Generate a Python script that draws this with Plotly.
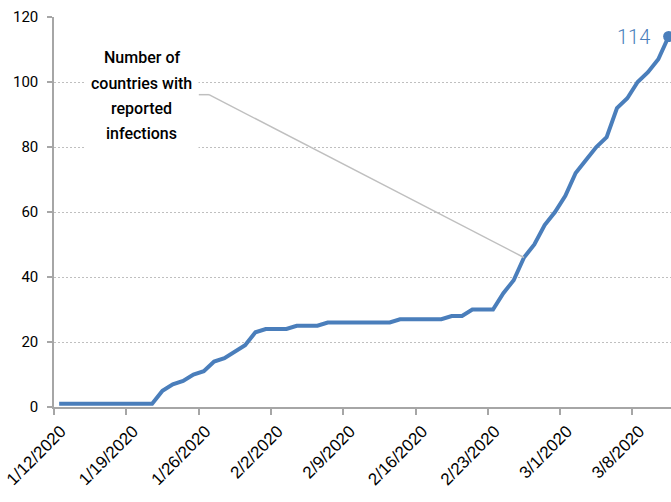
import pandas as pd
import plotly.graph_objects as go

# ---- data ----
start_date = "2020-01-12"
countries = [1, 1, 1, 1, 1, 1, 1, 1, 1, 1,
             5, 7, 8, 10, 11, 14, 15, 17, 19, 23,
             24, 24, 24, 25, 25, 25, 26, 26, 26, 26,
             26, 26, 26, 27, 27, 27, 27, 27, 28, 28,
             30, 30, 30, 35, 39, 46, 50, 56, 60, 65,
             72, 76, 80, 83, 92, 95, 100, 103, 107, 114]
tick_dates = ["2020-01-12", "2020-01-19", "2020-01-26", "2020-02-02", "2020-02-09",
              "2020-02-16", "2020-02-23", "2020-03-01", "2020-03-08"]
tick_labels = ["1/12/2020", "1/19/2020", "1/26/2020", "2/2/2020", "2/9/2020",
               "2/16/2020", "2/23/2020", "3/1/2020", "3/8/2020"]
y_ticks = [0, 20, 40, 60, 80, 100, 120]
label_lines = ["Number of", "countries with", "reported", "infections"]

# ---- layout constants (positions of the callout, not data) ----
label_center_x = "2020-01-20 00:00"
label_center_y = 95.9
line_shifts = [38, 12, -13, -38]
leader_start = "2020-01-25 12:00"
leader_elbow = "2020-01-26 12:00"
leader_y = 96.1
pointer_index = 45

dates = pd.date_range(start_date, periods=len(countries), freq="D")
half_day = pd.Timedelta(hours=12)
tickvals = pd.to_datetime(tick_dates) - half_day

BLUE = "#4A7EBB"
AXIS = "#A6A6A6"
GRID = "#BFBFBF"

fig = go.Figure()
fig.add_trace(go.Scatter(
    x=dates, y=countries, mode="lines",
    line=dict(color=BLUE, width=4), hoverinfo="skip", showlegend=False))
fig.add_trace(go.Scatter(
    x=[dates[-1]], y=[countries[-1]], mode="markers",
    marker=dict(color=BLUE, size=11), cliponaxis=False,
    hoverinfo="skip", showlegend=False))

# leader line from callout to the curve
fig.add_shape(type="line", xref="x", yref="y",
              x0=leader_start, y0=leader_y, x1=leader_elbow, y1=leader_y,
              line=dict(color=GRID, width=1.5))
fig.add_shape(type="line", xref="x", yref="y",
              x0=leader_elbow, y0=leader_y,
              x1=dates[pointer_index], y1=countries[pointer_index],
              line=dict(color=GRID, width=1.5))

# white box behind the callout text (hides gridlines)
fig.add_annotation(x=label_center_x, y=label_center_y, xref="x", yref="y",
                   text=" ", showarrow=False, width=113, height=114,
                   bgcolor="white", borderpad=0)
for txt, sh in zip(label_lines, line_shifts):
    fig.add_annotation(x=label_center_x, y=label_center_y, xref="x", yref="y",
                       text=txt, showarrow=False, yshift=sh,
                       font=dict(family="Roboto, sans-serif", size=16,
                                 color="#000000", weight=500))

fig.add_annotation(x=dates[-1], y=countries[-1], xref="x", yref="y",
                   text=str(countries[-1]), showarrow=False,
                   xanchor="right", yanchor="middle", xshift=-17,
                   font=dict(family="Roboto, sans-serif", size=20,
                             color=BLUE, weight=300))

fig.update_layout(
    width=671, height=502,
    margin=dict(l=54, r=0, t=17, b=95, autoexpand=False),
    plot_bgcolor="white", paper_bgcolor="white",
    showlegend=False,
    xaxis=dict(
        type="date", automargin=False,
        range=[pd.Timestamp(start_date) - half_day,
               pd.Timestamp("2020-03-11 05:30")],
        tickmode="array", tickvals=tickvals, ticktext=tick_labels,
        tickangle=-45, ticks="outside", ticklen=6, tickcolor=AXIS, tickwidth=1.5,
        ticklabelshift=7, ticklabeloverflow="allow",
        showline=True, linecolor=AXIS, linewidth=1.5,
        showgrid=False, zeroline=False,
        tickfont=dict(family="Liberation Sans, Arial, sans-serif", size=17, color="#000000"),
    ),
    yaxis=dict(
        range=[0, 120], tickmode="array", tickvals=y_ticks, automargin=False,
        ticks="outside", ticklen=5, tickcolor=AXIS, tickwidth=1.5,
        ticklabelstandoff=6,
        showline=True, linecolor=AXIS, linewidth=1.5,
        showgrid=True, gridcolor=GRID, griddash="2px,2px", gridwidth=1,
        zeroline=False,
        tickfont=dict(family="Roboto, sans-serif", size=15, color="#000000"),
    ),
)

fig.write_html("out.html", config={"displayModeBar": False},
               post_script="document.body.style.margin='0';")
